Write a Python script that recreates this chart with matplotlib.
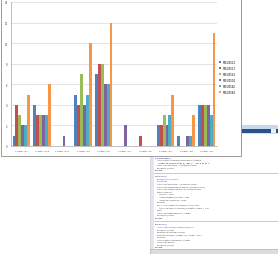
import matplotlib
matplotlib.use('Agg')
import matplotlib.pyplot as plt
from matplotlib.patches import Rectangle
import numpy as np

# data
clusters = ['Cluster #1', 'Cluster #10', 'Cluster #11', 'Cluster #2', 'Cluster #3',
            'Cluster #4', 'Cluster #5', 'Cluster #6', 'Cluster #8', 'Cluster #9']
series_names = ['PBEU0512', 'PBEU0513', 'PBEU0542', 'PBEU0504', 'PBEU0562', 'PBEU0564']
s1 = [1, 4, 0, 5, 7, 0, 0, 2, 1, 4]
s2 = [4, 3, 0, 4, 8, 0, 1, 2, 0, 4]
s3 = [3, 3, 0, 7, 8, 0, 0, 3, 0, 4]
s4 = [2, 3, 1, 4, 6, 2, 0, 2, 1, 4]
s5 = [2, 3, 0, 5, 6, 0, 0, 3, 1, 3]
s6 = [5, 6, 0, 10, 12, 0, 0, 5, 3, 11]
colors = ['#4f81bd', '#c0504d', '#9bbb59', '#8064a2', '#4bacc6', '#f79646']

# vba code shown in the editor window behind the chart
code_blocks = [
    ['Sub Graphique1()',
     '    ActiveSheet.ChartObjects("Graphique 1").Activate',
     '    ActiveChart.SeriesCollection(1).Values = "=Feuil1!$B$2:$B$11"',
     '    ActiveChart.ChartType = xlColumnClustered',
     '    Range("A1").Select',
     'End Sub'],
    ['Sub Macro2()',
     '    Range("A1:G11").Select',
     '    Charts.Add',
     '    ActiveChart.ChartType = xlColumnClustered',
     '    ActiveChart.SetSourceData Source:=Range("A1:G11")',
     '    ActiveChart.Location Where:=xlLocationAsObject',
     '    With ActiveChart',
     '        .HasTitle = False',
     '        .Axes(xlCategory).HasTitle = False',
     '        .Axes(xlValue).HasTitle = False',
     '    End With',
     '    For i = 1 To ActiveChart.SeriesCollection.Count',
     '        ActiveChart.SeriesCollection(i).Format.Fill.Visible = True',
     '    Next i',
     '    ActiveChart.Legend.Position = xlRight',
     '    Range("A1").Select',
     'End Sub'],
    ['Sub Macro3()',
     "    ' Trie les donnees par cluster et recalcule",
     '    Range("A1").Select',
     '    Selection.CurrentRegion.Select',
     '    Selection.Sort Key1:=Range("A2"), Header:=xlYes',
     '    Calculate',
     '    ActiveSheet.ChartObjects(1).Activate',
     '    ActiveChart.Refresh',
     '    Range("A1").Select',
     'End Sub'],
]

W, H = 278, 255
fig = plt.figure(figsize=(W / 100, H / 100), dpi=100)


def fx(x):
    return x / W


def fy(y):
    return 1 - y / H


def box(x0, y0, x1, y1, z, **kw):
    fig.add_artist(Rectangle((fx(x0), fy(y1)), fx(x1) - fx(x0), fy(y0) - fy(y1),
                             transform=fig.transFigure, zorder=z, **kw))


# code editor window (behind the chart)
box(150, 126, 279, 256, -5, facecolor='#d4dbe6', edgecolor='none')
box(150, 126, 279, 130, -4, facecolor='#c4d8ee', edgecolor='none')
box(150, 130, 279, 134, -4, facecolor='#2e5088', edgecolor='none')
box(271, 130.5, 276, 133.5, -3, facecolor='#e8eef6', edgecolor='none')
box(151, 135, 279, 250, -4, facecolor='white', edgecolor='none')
box(151, 135, 153.5, 250, -3, facecolor='#e6e6e6', edgecolor='none')
box(150, 250, 279, 256, -4, facecolor='#dcdcdc', edgecolor='#b0b0b0', linewidth=0.4)
for ysep in [174, 222]:
    fig.add_artist(plt.Line2D([fx(154), fx(279)], [fy(ysep), fy(ysep)],
                              transform=fig.transFigure, color='#a0a0a0', lw=0.4, zorder=-3))

starts = [158, 176.5, 224.5]
for block, y0 in zip(code_blocks, starts):
    for i, line in enumerate(block):
        if line.startswith('Sub') or line.startswith('End Sub'):
            c = '#00007f'
        elif line.strip().startswith("'"):
            c = '#008000'
        else:
            c = '#303030'
        fig.text(fx(155), fy(y0 + i * 2.6), line, fontsize=1.25, color=c,
                 va='center', ha='left', zorder=-2)

# chart area
box(1, 0, 241, 156.5, -1, facecolor='white', edgecolor='#8c8c8c', linewidth=0.6)

ax = fig.add_axes([fx(11), fy(147), fx(217) - fx(11), fy(3) - fy(147)])
ax.set_zorder(1)
x = np.arange(len(clusters))
data = [s1, s2, s3, s4, s5, s6]
bw = 0.85 / len(data)
for k, (vals, name, col) in enumerate(zip(data, series_names, colors)):
    ax.bar(x - 0.425 + bw * (k + 0.5), vals, width=bw, color=col, label=name,
           edgecolor='none', zorder=3)

ax.set_xlim(-0.5, len(clusters) - 0.5)
ax.set_ylim(0, 14)
ax.set_yticks(range(0, 15, 2))
ax.set_xticks(x)
ax.set_xticklabels(clusters, fontsize=1.7, color='#404040')
ax.tick_params(axis='y', labelsize=1.8, labelcolor='#404040', length=0, pad=2.5)
ax.tick_params(axis='x', length=0, pad=2.5)
ax.grid(axis='y', color='#d9d9d9', linewidth=0.5, zorder=0)
for s in ['top', 'right']:
    ax.spines[s].set_visible(False)
ax.spines['left'].set_color('#a6a6a6')
ax.spines['bottom'].set_color('#a6a6a6')
ax.spines['left'].set_linewidth(0.5)
ax.spines['bottom'].set_linewidth(0.5)

ax.legend(loc='center left', bbox_to_anchor=(fx(218), fy(78)), bbox_transform=fig.transFigure,
          fontsize=1.8, frameon=False, handlelength=0.8, handleheight=0.8,
          handletextpad=0.6, labelspacing=0.75, borderpad=0)

fig.savefig('out.png', dpi=100)
